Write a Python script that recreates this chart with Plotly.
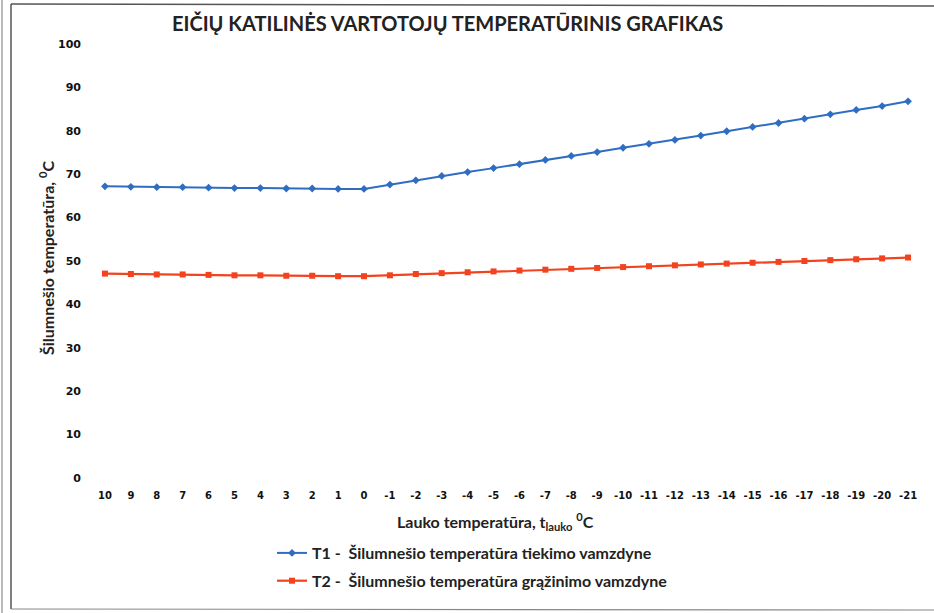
import plotly.graph_objects as go

outdoor = [str(v) for v in range(10, -22, -1)]
t1_supply = [67.2, 67.1, 67.0, 67.0, 66.9, 66.8, 66.8, 66.7, 66.7, 66.6, 66.6,
             67.6, 68.6, 69.6, 70.5, 71.4, 72.3, 73.3, 74.2, 75.1, 76.1,
             77.0, 77.9, 78.9, 79.9, 80.9, 81.8, 82.8, 83.8, 84.8, 85.7, 86.8]
t2_return = [47.1, 47.0, 46.9, 46.9, 46.8, 46.7, 46.7, 46.6, 46.6, 46.5, 46.5,
             46.7, 47.0, 47.2, 47.4, 47.6, 47.8, 48.0, 48.2, 48.4, 48.6,
             48.8, 49.0, 49.2, 49.4, 49.6, 49.8, 50.0, 50.2, 50.4, 50.6, 50.8]
y_ticks = list(range(0, 101, 10))

W, H = 934, 613
L, R, T, B = 92, 13, 44, 135
pw, ph = W - L - R, H - T - B

def px(x):
    return (x - L) / pw

def py(y):
    return (H - B - y) / ph

fig = go.Figure()
fig.add_trace(go.Scatter(
    x=outdoor, y=t1_supply, mode="lines+markers",
    name="<b>T1 -  Šilumnešio temperatūra tiekimo vamzdyne</b>",
    line=dict(color="#2F6DC3", width=2),
    marker=dict(symbol="diamond", size=6, color="#2F6DC3"),
    legendgroup="a"))
fig.add_trace(go.Scatter(
    x=outdoor, y=t2_return, mode="lines+markers",
    name="<b>T2 -  Šilumnešio temperatūra grąžinimo vamzdyne</b>",
    line=dict(color="#F2431E", width=2.2),
    marker=dict(symbol="square", size=6, color="#F2431E"),
    legendgroup="b"))

fig.update_layout(
    width=W, height=H,
    margin=dict(l=L, r=R, t=T, b=B),
    paper_bgcolor="white", plot_bgcolor="white",
    showlegend=True,
    legend=dict(x=px(272), y=py(536), xanchor="left", yanchor="top",
                font=dict(family="Lato", size=16, color="#222"),
                tracegroupgap=4, itemwidth=30, bgcolor="rgba(0,0,0,0)"),
    xaxis=dict(type="category", range=[-0.5, len(outdoor) - 0.5],
               showgrid=False, zeroline=False, showline=False,
               ticks="", ticklabelstandoff=10,
               tickfont=dict(family="DejaVu Sans", size=10, color="#111", weight="bold")),
    yaxis=dict(range=[0, 100], tickvals=y_ticks, showgrid=False, zeroline=False,
               showline=False, ticks="", ticklabelstandoff=10,
               tickfont=dict(family="DejaVu Sans", size=11, color="#111", weight="bold")),
)

fig.add_annotation(xref="paper", yref="paper", x=px(447), y=py(23),
                   text="<b>EIČIŲ KATILINĖS VARTOTOJŲ TEMPERATŪRINIS GRAFIKAS</b>",
                   showarrow=False, font=dict(family="Lato", size=20, color="#222"),
                   xanchor="center", yanchor="middle")
fig.add_annotation(xref="paper", yref="paper", x=px(495), y=py(521),
                   text="<b>Lauko temperatūra, t<sub>lauko</sub> <sup>0</sup>C</b>",
                   showarrow=False, font=dict(family="Lato", size=16, color="#222"),
                   xanchor="center", yanchor="middle")
fig.add_annotation(xref="paper", yref="paper", x=px(46), y=py(258),
                   text="<b>Šilumnešio temperatūra, <sup>0</sup>C</b>", textangle=-90,
                   showarrow=False, font=dict(family="Lato", size=16, color="#222"),
                   xanchor="center", yanchor="middle")

frame = dict(color="#555", width=1.5)
fig.add_shape(type="line", xref="paper", yref="paper", x0=px(11), x1=px(11), y0=py(4), y1=py(609), line=frame)
fig.add_shape(type="line", xref="paper", yref="paper", x0=px(11), x1=px(934), y0=py(4), y1=py(6), line=frame)
fig.add_shape(type="line", xref="paper", yref="paper", x0=px(11), x1=px(934), y0=py(609), y1=py(610), line=dict(color="#888", width=1.2))
fig.add_shape(type="line", xref="paper", yref="paper", x0=px(2), x1=px(2), y0=py(0), y1=py(613), line=dict(color="#777", width=1))

fig.write_html("out.html", config={"displayModeBar": False},
               post_script="document.body.style.margin='0';document.body.style.overflow='hidden';")
